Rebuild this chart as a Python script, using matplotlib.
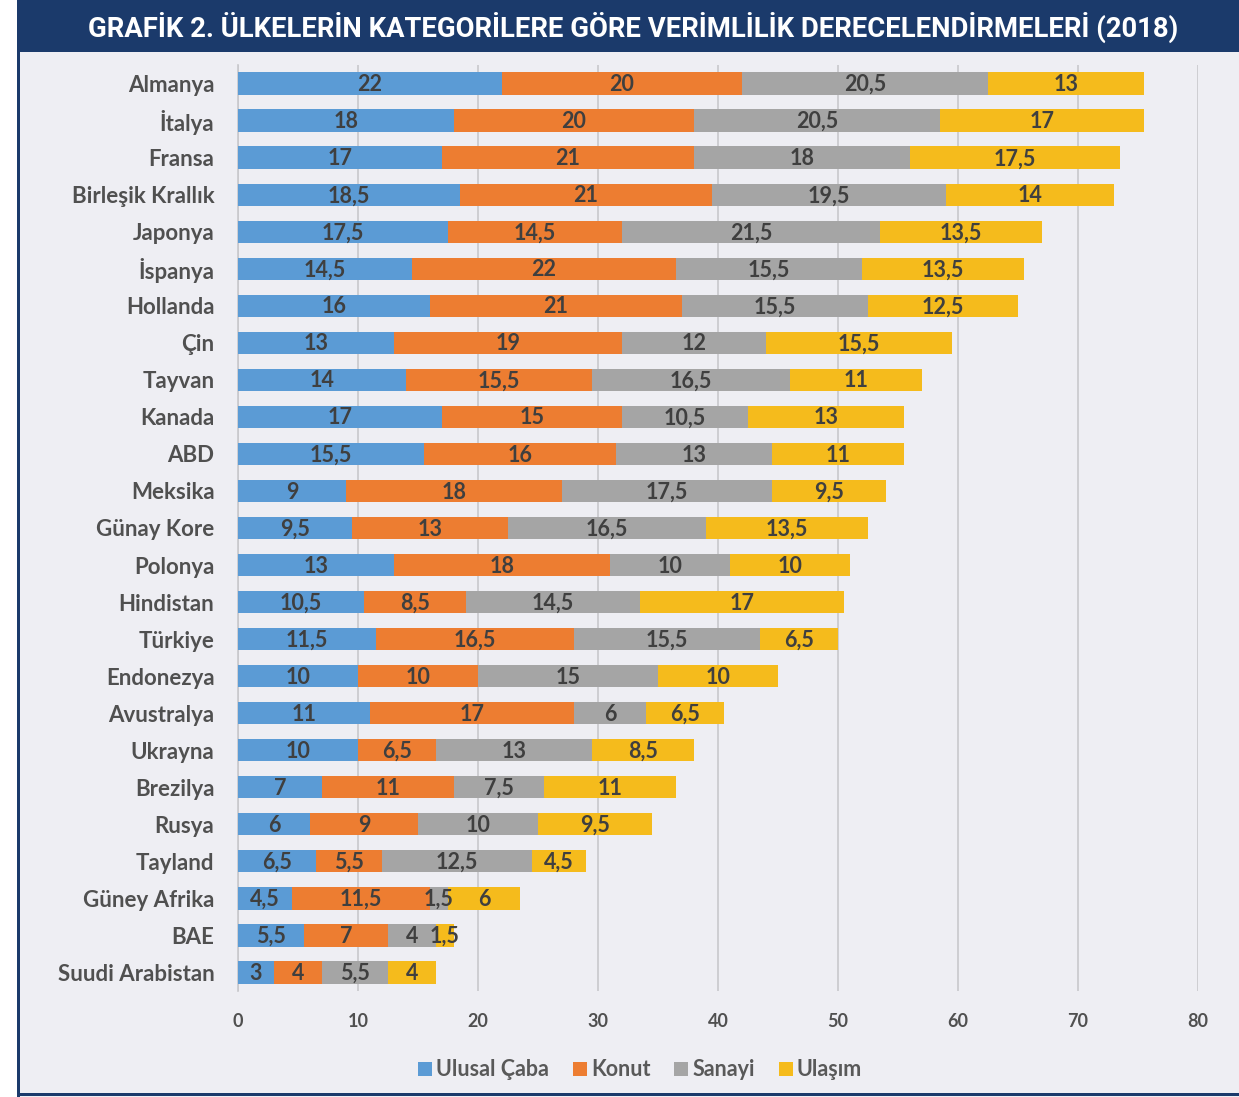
import matplotlib
matplotlib.use("Agg")
import matplotlib.pyplot as plt
from matplotlib.patches import Rectangle
import numpy as np

plt.rcParams['font.family'] = ['Lato', 'DejaVu Sans']

countries = ["Almanya", "İtalya", "Fransa", "Birleşik Krallık", "Japonya", "İspanya",
             "Hollanda", "Çin", "Tayvan", "Kanada", "ABD", "Meksika", "Günay Kore",
             "Polonya", "Hindistan", "Türkiye", "Endonezya", "Avustralya", "Ukrayna",
             "Brezilya", "Rusya", "Tayland", "Güney Afrika", "BAE", "Suudi Arabistan"]
ulusal = [22, 18, 17, 18.5, 17.5, 14.5, 16, 13, 14, 17, 15.5, 9, 9.5, 13, 10.5, 11.5,
          10, 11, 10, 7, 6, 6.5, 4.5, 5.5, 3]
konut = [20, 20, 21, 21, 14.5, 22, 21, 19, 15.5, 15, 16, 18, 13, 18, 8.5, 16.5,
         10, 17, 6.5, 11, 9, 5.5, 11.5, 7, 4]
sanayi = [20.5, 20.5, 18, 19.5, 21.5, 15.5, 15.5, 12, 16.5, 10.5, 13, 17.5, 16.5, 10,
          14.5, 15.5, 15, 6, 13, 7.5, 10, 12.5, 1.5, 4, 5.5]
ulasim = [13, 17, 17.5, 14, 13.5, 13.5, 12.5, 15.5, 11, 13, 11, 9.5, 13.5, 10, 17,
          6.5, 10, 6.5, 8.5, 11, 9.5, 4.5, 6, 1.5, 4]
series_names = ["Ulusal Çaba", "Konut", "Sanayi", "Ulaşım"]
colors = ["#5b9bd5", "#ed7d31", "#a5a5a5", "#f5bb1c"]
xticks = [0, 10, 20, 30, 40, 50, 60, 70, 80]

W, H = 1239, 1097
fig = plt.figure(figsize=(W / 100, H / 100), dpi=100)
fig.patch.set_facecolor("white")

panel_bg = "#eeeef3"
navy = "#1b3a6b"
fig.patches.append(Rectangle((18 / W, 0), 1 - 18 / W, 1 - 52 / H, transform=fig.transFigure,
                             facecolor=panel_bg, edgecolor="none", zorder=-2))
fig.patches.append(Rectangle((18 / W, 1 - 52 / H), 1 - 18 / W, 52 / H, transform=fig.transFigure,
                             facecolor=navy, edgecolor="none", zorder=-1))
fig.patches.append(Rectangle((17 / W, 0), 3 / W, 1, transform=fig.transFigure,
                             facecolor=navy, edgecolor="none", zorder=-1))
fig.patches.append(Rectangle((17 / W, 1 / H), 1 - 17 / W, 3 / H, transform=fig.transFigure,
                             facecolor=navy, edgecolor="none", zorder=-1))

fig.text(633 / W, 1 - 27 / H, "GRAFİK 2. ÜLKELERİN KATEGORİLERE GÖRE VERİMLİLİK DERECELENDİRMELERİ (2018)",
         color="white", fontsize=19.8, fontweight="bold", ha="center", va="center",
         family=["Roboto", "DejaVu Sans"])

ax = fig.add_axes([238 / W, 1 - 991 / H, (1198 - 238) / W, (991 - 65) / H])
ax.set_facecolor("none")
ax.set_zorder(2)

y = np.arange(len(countries))
data = [ulusal, konut, sanayi, ulasim]
left = np.zeros(len(countries))
for vals, col, name in zip(data, colors, series_names):
    vals = np.array(vals, dtype=float)
    ax.barh(y, vals, left=left, height=0.6, color=col, label=name, zorder=3)
    for yi, l, v in zip(y, left, vals):
        txt = f"{v:g}".replace(".", ",")
        ax.text(l + v / 2, yi + 0.03, txt, ha="center", va="center", fontsize=15.5,
                fontweight="bold", color="#3f3f3f", zorder=4)
    left += vals

ax.set_ylim(len(countries) - 0.5, -0.5)
ax.set_xlim(0, 80)
ax.set_xticks(xticks)
ax.set_xticklabels([str(t) for t in xticks], fontsize=13, fontweight="bold", color="#505050")
ax.set_yticks(y)
ax.set_yticklabels(countries, fontsize=16, fontweight="bold", color="#505050")
ax.tick_params(axis="both", length=0)
ax.tick_params(axis="y", pad=17)
ax.tick_params(axis="x", pad=16)
ax.grid(axis="x", color="#c8c8cc", linewidth=1.2, zorder=0)
ax.set_axisbelow(True)
for s in ["top", "right", "bottom"]:
    ax.spines[s].set_visible(False)
ax.spines["left"].set_color("#c8c8cc")
ax.spines["left"].set_linewidth(1.2)

handles, labels = ax.get_legend_handles_labels()
leg = fig.legend(handles, labels, loc="center", bbox_to_anchor=(640 / W, 1 - 1070 / H),
                 ncol=4, frameon=False, handlelength=0.65, handleheight=0.65,
                 handletextpad=0.2, columnspacing=1.1, prop={"weight": "bold", "size": 15.5})
for t in leg.get_texts():
    t.set_color("#595959")

fig.savefig("out.png", dpi=100, facecolor=fig.get_facecolor())
